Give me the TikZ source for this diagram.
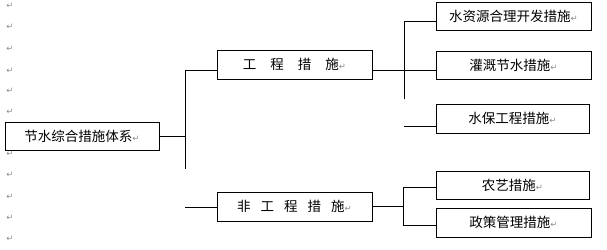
\documentclass[tikz,border=0pt]{standalone}
\usepackage{fontspec}
\usepackage{xcolor}
\usepackage{tikz}
\usetikzlibrary{positioning}
\newfontfamily\cjk{Noto Sans CJK SC}
\newfontfamily\symfont{DejaVu Sans}
\definecolor{boxline}{HTML}{000000}
\definecolor{markgray}{HTML}{8c8c8c}
\newcommand{\parmark}{{\symfont\fontsize{8.5}{8.5}\selectfont\textcolor{markgray}{↵}}}
\tikzset{
  levelbox/.style={
    draw=boxline, fill=white, line width=1pt,
    minimum height=28pt, inner sep=0pt,
    align=center, font=\cjk\fontsize{13.5}{14}\selectfont
  },
  linkline/.style={draw=boxline, line width=1pt}
}

\begin{document}
\begin{tikzpicture}[x=1pt, y=-1pt]
  \useasboundingbox (0,0) rectangle (607,249);
  % margin paragraph marks
  \foreach \py in {6,27,49,71,91,112,154,175,197,218,239}
    \node[inner sep=0pt] at (10,\py) {\parmark};
  % boxes
  \node[levelbox, minimum width=154pt] (system) at (82,136) {节水综合措施体系\parmark};
  \node[levelbox, minimum width=155pt, minimum height=29pt] (eng) at (294.5,64.5) {工\hspace{14pt}程\hspace{14pt}措\hspace{14pt}施\parmark};
  \node[levelbox, minimum width=155pt, minimum height=29pt] (noneng) at (294.5,206.5) {非\hspace{10pt}工\hspace{10pt}程\hspace{10pt}措\hspace{10pt}施\parmark};
  \node[levelbox, minimum width=155pt] (develop) at (513.5,16) {水资源合理开发措施\parmark};
  \node[levelbox, minimum width=155pt] (irrig) at (513.5,65) {灌溉节水措施\parmark};
  \node[levelbox, minimum width=153pt, minimum height=29pt] (soil) at (512.5,118.5) {水保工程措施\parmark};
  \node[levelbox, minimum width=153pt] (agro) at (512.5,185) {农艺措施\parmark};
  \node[levelbox, minimum width=155pt, minimum height=29pt] (policy) at (513.5,222.5) {政策管理措施\parmark};
  % junction points
  \coordinate (spinetop) at (185,70);
  \coordinate (spinebot) at (185,169);
  \coordinate (lowstub) at (185,207);
  \coordinate (engtop) at (404,21);
  \coordinate (engbot) at (404,99);
  \coordinate (soilstub) at (404,126);
  \coordinate (agrotop) at (403,187);
  \coordinate (agrobot) at (403,225);
  % connectors
  \draw[linkline] (system.east) -- (system.east -| spinetop);
  \draw[linkline] (spinetop) -- (spinebot);
  \draw[linkline] (spinetop) -- (spinetop -| eng.west);
  \draw[linkline] (lowstub) -- (lowstub -| noneng.west);
  \draw[linkline] (eng.east |- spinetop) -- (irrig.west |- spinetop);
  \draw[linkline] (engtop) -- (engbot);
  \draw[linkline] (engtop) -- (engtop -| develop.west);
  \draw[linkline] (soilstub) -- (soilstub -| soil.west);
  \draw[linkline] (noneng.east) -- (noneng.east -| agrotop);
  \draw[linkline] (agrotop) -- (agrobot);
  \draw[linkline] (agrotop) -- (agrotop -| agro.west);
  \draw[linkline] (agrobot) -- (agrobot -| policy.west);
\end{tikzpicture}
\end{document}
